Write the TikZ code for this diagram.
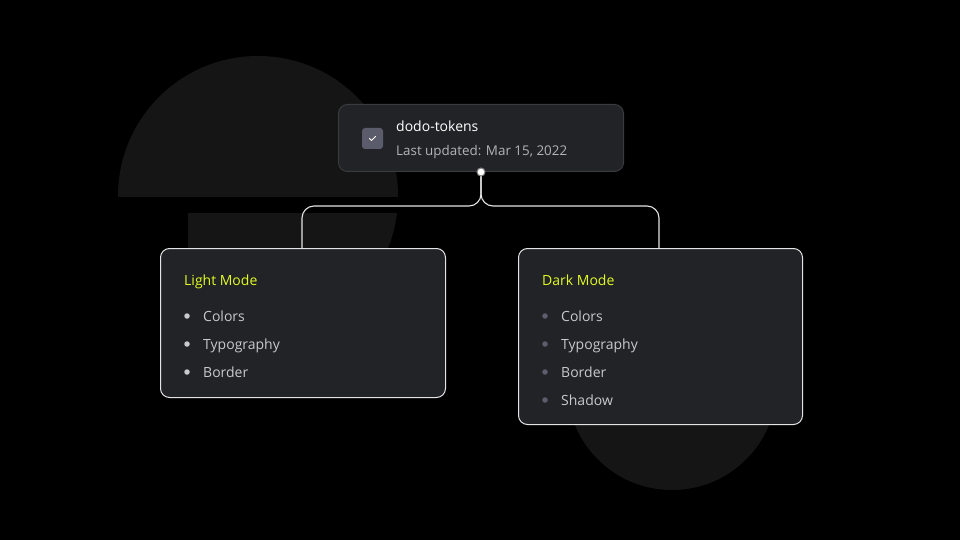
\documentclass[tikz,border=0pt]{standalone}
\usepackage{fontspec}
\setmainfont{Open Sans}
\begin{document}
\begin{tikzpicture}[x=1pt,y=-1pt,
  card/.style={rounded corners=9pt,fill=cardbg,line width=1pt},
  conn/.style={draw=linec,line width=1.1pt,rounded corners=12pt},
  title/.style={anchor=base west,text=ylw,font=\fontsize{14}{16}\selectfont},
  item/.style={anchor=base west,text=itemc,font=\fontsize{14}{16}\selectfont},
  lbul/.style={circle,fill=#1,inner sep=0pt,minimum size=5.5pt}]
\definecolor{bgc}{HTML}{000000}
\definecolor{blobc}{HTML}{151515}
\definecolor{cardbg}{HTML}{222326}
\definecolor{linec}{HTML}{E4E4E6}
\definecolor{topb}{HTML}{3A3B3F}
\definecolor{ylw}{HTML}{E2FB24}
\definecolor{itemc}{HTML}{C9C9CD}
\definecolor{subc}{HTML}{B4B4B8}
\definecolor{chk}{HTML}{5A5B6B}
\definecolor{dbul}{HTML}{5C5E6E}
\fill[bgc] (0,0) rectangle (960,540);
\useasboundingbox (0,0) rectangle (960,540);
% background shapes
\begin{scope}
\clip (0,0) rectangle (960,196);
\fill[blobc] (258,196) circle (140);
\end{scope}
\begin{scope}
\clip (188,213) rectangle (960,540);
\fill[blobc] (258,196) circle (140);
\end{scope}
\fill[blobc] (672,385) circle (105);
% cards
\node[card,draw=linec,minimum width=285pt,minimum height=149pt,anchor=north west] (light) at (160,248) {};
\node[card,draw=linec,minimum width=284pt,minimum height=176pt,anchor=north west] (dark) at (518,248) {};
\node[card,draw=topb,minimum width=285pt,minimum height=67pt,anchor=north west] (top) at (338,104) {};
% connectors
\coordinate (j) at (481,172);
\draw[conn] (j) -- (481,206) -| (302,248);
\draw[conn] (j) -- (481,206) -| (659,248);
\node[circle,fill=white,draw=gray,line width=1pt,inner sep=0pt,minimum size=8pt] (dot) at (j) {};
% top content
\node[fill=chk,rounded corners=3pt,minimum size=21pt,inner sep=0pt] (chkbox) at (372.5,138.5) {};
\draw[white,line width=1pt,line cap=round,line join=round] ([shift={(-3,0)}]chkbox.center) -- ++(2,2) -- ++(4,-4);
\node[anchor=base west,inner sep=0pt,text=white,font=\fontsize{14}{16}\selectfont] (name) at (396,132) {dodo-tokens};
\node[anchor=base west,inner sep=0pt,text=subc,font=\fontsize{13.4}{16}\selectfont] (upd) at (396,156) {Last updated: Mar 15, 2022};
% light content
\node[title,inner sep=0pt] (lt) at (184,285) {Light Mode};
\foreach \t/\yy [count=\i] in {Colors/316,Typography/344,Border/372}{
  \node[lbul=itemc] (lb\i) at (187,\yy) {};
  \node[item,inner sep=0pt] (li\i) at (203,\yy+5) {\t};
}
% dark content
\node[title,inner sep=0pt] (dt) at (542,285) {Dark Mode};
\foreach \t/\yy [count=\i] in {Colors/316,Typography/344,Border/372,Shadow/400}{
  \node[lbul=dbul] (db\i) at (545,\yy) {};
  \node[item,inner sep=0pt] (di\i) at (561,\yy+5) {\t};
}
\end{tikzpicture}
\end{document}
